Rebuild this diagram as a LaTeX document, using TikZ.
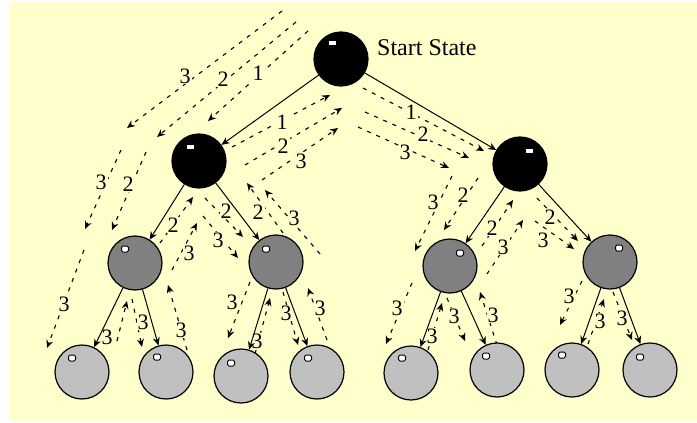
\documentclass[tikz,border=0pt]{standalone}
\usepackage{fontspec}
\setmainfont{Liberation Serif}
\usetikzlibrary{arrows.meta}
\definecolor{bgy}{RGB}{255,255,204}
\definecolor{dkg}{RGB}{128,128,128}
\definecolor{ltg}{RGB}{192,192,192}
\begin{document}
\begin{tikzpicture}[x=1pt,y=-1pt,
  st/.style={circle,draw=black,line width=1.2pt,minimum size=54pt,inner sep=0pt},
  blk/.style={st,fill=black},
  dg/.style={st,fill=dkg},
  lg/.style={st,fill=ltg},
  hl/.style={draw=black,fill=white,minimum width=7pt,minimum height=6pt,inner sep=0pt,line width=1pt,rounded corners=1.5pt},
  hlb/.style={fill=white,minimum width=7pt,minimum height=4pt,inner sep=0pt},
  edge/.style={line width=1pt,-{Stealth[length=8pt,width=7pt]}},
  dsh/.style={line width=1.1pt,dash pattern=on 4pt off 6pt,-{Stealth[length=8pt,width=7pt]}},
  lab/.style={font=\fontsize{22}{22}\selectfont,inner sep=1pt,fill=bgy}
]
\useasboundingbox (0,0) rectangle (697,423);
\fill[bgy] (9,2) rectangle (697,421);

% dashed trace arrows: start/end coordinates
\coordinate (s1) at (282,11);  \coordinate (e1) at (127,128);
\coordinate (s2) at (296,22);  \coordinate (e2) at (157,137);
\coordinate (s3) at (308,31);  \coordinate (e3) at (208,121);
\coordinate (s4) at (121,150); \coordinate (e4) at (85,229);
\coordinate (s5) at (146,152); \coordinate (e5) at (112,230);
\coordinate (s6) at (84,250);  \coordinate (e6) at (47,348);
\coordinate (s7) at (232,147); \coordinate (e7) at (330,95);
\coordinate (s8) at (245,165); \coordinate (e8) at (342,108);
\coordinate (s9) at (262,180); \coordinate (e9) at (338,128);
\coordinate (s10) at (160,243); \coordinate (e10) at (193,197);
\coordinate (s11) at (172,270); \coordinate (e11) at (197,223);
\coordinate (s12) at (205,198); \coordinate (e12) at (243,237);
\coordinate (s13) at (203,216); \coordinate (e13) at (238,258);
\coordinate (s14) at (283,233); \coordinate (e14) at (247,183);
\coordinate (s15) at (320,254); \coordinate (e15) at (265,190);
\coordinate (s16) at (250,282); \coordinate (e16) at (228,338);
\coordinate (s17) at (255,354); \coordinate (e17) at (270,298);
\coordinate (s18) at (283,292); \coordinate (e18) at (298,345);
\coordinate (s19) at (327,340); \coordinate (e19) at (308,288);
\coordinate (s20) at (117,341); \coordinate (e20) at (127,301);
\coordinate (s21) at (132,299); \coordinate (e21) at (142,347);
\coordinate (s22) at (187,350); \coordinate (e22) at (168,285);
\coordinate (s23) at (363,88);  \coordinate (e23) at (484,151);
\coordinate (s24) at (365,112); \coordinate (e24) at (469,158);
\coordinate (s25) at (358,127); \coordinate (e25) at (449,168);
\coordinate (s26) at (478,178); \coordinate (e26) at (444,230);
\coordinate (s27) at (452,176); \coordinate (e27) at (415,251);
\coordinate (s28) at (482,246); \coordinate (e28) at (513,200);
\coordinate (s29) at (487,274); \coordinate (e29) at (523,220);
\coordinate (s30) at (537,198); \coordinate (e30) at (578,241);
\coordinate (s31) at (535,221); \coordinate (e31) at (574,249);
\coordinate (s32) at (412,283); \coordinate (e32) at (386,344);
\coordinate (s33) at (428,350); \coordinate (e33) at (442,303);
\coordinate (s34) at (447,298); \coordinate (e34) at (465,341);
\coordinate (s35) at (497,345); \coordinate (e35) at (480,292);
\coordinate (s36) at (582,281); \coordinate (e36) at (560,325);
\coordinate (s37) at (588,344); \coordinate (e37) at (604,299);
\coordinate (s38) at (613,292); \coordinate (e38) at (632,340);

\foreach \i in {1,...,38} {\draw[dsh] (s\i) -- (e\i);}

% labels
\node[lab] (l1) at (185,76) {3};
\node[lab] (l2) at (223,79) {2};
\node[lab] (l3) at (258,73) {1};
\node[lab] (l4) at (101,182) {3};
\node[lab] (l5) at (128,184) {2};
\node[lab] (l6) at (64,304) {3};
\node[lab] (l7) at (282,122) {1};
\node[lab] (l8) at (283,146) {2};
\node[lab] (l9) at (301,161) {3};
\node[lab] (l10) at (173,225) {2};
\node[lab] (l11) at (189,253) {3};
\node[lab] (l12) at (226,211) {2};
\node[lab] (l13) at (218,240) {3};
\node[lab] (l14) at (258,212) {2};
\node[lab] (l15) at (294,218) {3};
\node[lab] (l16) at (232,302) {3};
\node[lab] (l17) at (257,341) {3};
\node[lab] (l18) at (286,313) {3};
\node[lab] (l19) at (320,308) {3};
\node[lab] (l20) at (107,337) {3};
\node[lab] (l21) at (143,322) {3};
\node[lab] (l22) at (181,330) {3};
\node[lab] (l23) at (411,112) {1};
\node[lab] (l24) at (423,134) {2};
\node[lab] (l25) at (405,152) {3};
\node[lab] (l26) at (463,195) {2};
\node[lab] (l27) at (433,202) {3};
\node[lab] (l28) at (492,228) {2};
\node[lab] (l29) at (503,247) {3};
\node[lab] (l30) at (550,217) {2};
\node[lab] (l31) at (543,240) {3};
\node[lab] (l32) at (397,308) {3};
\node[lab] (l33) at (432,336) {3};
\node[lab] (l34) at (454,316) {3};
\node[lab] (l35) at (493,315) {3};
\node[lab] (l36) at (569,296) {3};
\node[lab] (l37) at (600,321) {3};
\node[lab] (l38) at (622,318) {3};

% tree nodes
\node[blk] (root) at (341,59) {};
\node[blk] (L) at (199,161) {};
\node[blk] (R) at (520,164) {};
\node[dg] (LL) at (135,263) {};
\node[dg] (LR) at (276,262) {};
\node[dg] (RL) at (450,266) {};
\node[dg] (RR) at (610,262) {};
\node[lg] (a1) at (82,372) {};
\node[lg] (a2) at (166,372) {};
\node[lg] (a3) at (241,376) {};
\node[lg] (a4) at (317,372) {};
\node[lg] (a5) at (411,373) {};
\node[lg] (a6) at (497,370) {};
\node[lg] (a7) at (572,370) {};
\node[lg] (a8) at (650,370) {};

% highlights
\node[hlb] (hroot) at (332,43) {};
\node[hlb] (hL) at (190,147) {};
\node[hlb] (hR) at (529,151) {};
\node[hl] (hLL) at (125,249) {};
\node[hl] (hLR) at (266,249) {};
\node[hl] (hRL) at (460,253) {};
\node[hl] (hRR) at (619,248) {};
\node[hl] (ha1) at (72,358) {};
\node[hl] (ha2) at (157,357) {};
\node[hl] (ha3) at (231,363) {};
\node[hl] (ha4) at (308,358) {};
\node[hl] (ha5) at (402,358) {};
\node[hl] (ha6) at (486,356) {};
\node[hl] (ha7) at (562,355) {};
\node[hl] (ha8) at (640,357) {};

\node[font=\fontsize{24}{24}\selectfont,inner sep=0pt,anchor=base west] (start) at (377,55) {Start State};

% solid edges
\draw[edge] (root) -- (L);
\draw[edge] (root) -- (R);
\draw[edge] (L) -- (LL);
\draw[edge] (L) -- (LR);
\draw[edge] (R) -- (RL);
\draw[edge] (R) -- (RR);
\draw[edge] (LL) -- (a1);
\draw[edge] (LL) -- (a2);
\draw[edge] (LR) -- (a3);
\draw[edge] (LR) -- (a4);
\draw[edge] (RL) -- (a5);
\draw[edge] (RL) -- (a6);
\draw[edge] (RR) -- (a7);
\draw[edge] (RR) -- (a8);
\end{tikzpicture}
\end{document}
